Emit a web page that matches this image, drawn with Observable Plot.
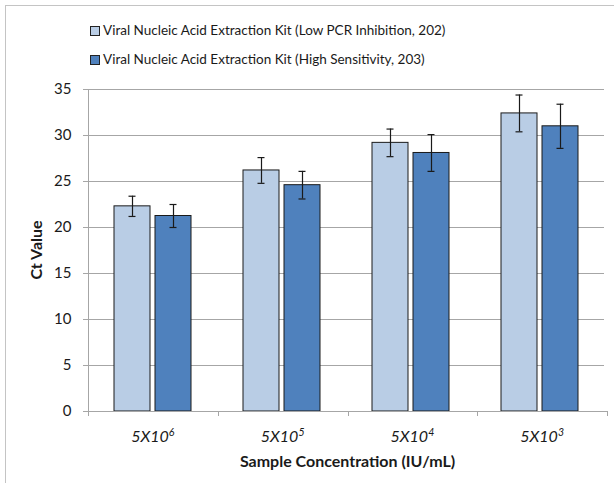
<!DOCTYPE html>
<html>
<head>
<meta charset="utf-8">
<script src="https://cdn.jsdelivr.net/npm/d3@7"></script>
<script src="https://cdn.jsdelivr.net/npm/@observablehq/plot@0.6"></script>
<style>
  html, body { margin: 0; padding: 0; background: #fff; }
  #wrap { position: relative; width: 614px; height: 483px; overflow: hidden; font-family: Lato, "Open Sans", sans-serif; color: #1a1a1a; }
  #frame { position: absolute; left: 5px; top: 5px; width: 640px; height: 520px; border: 1px solid #c4c4c4; box-sizing: border-box; }
  #legend { position: absolute; left: 90px; top: 16px; font-size: 13.5px; line-height: 29px; }
  #legend .row { display: flex; align-items: center; white-space: nowrap; }
  #legend .sw { width: 10px; height: 10px; border: 1px solid #222; margin-right: 3px; box-sizing: border-box; }
  #chart { position: absolute; left: 0; top: 0; }
</style>
</head>
<body>
<div id="wrap">
  <div id="frame"></div>
  <div id="chart"></div>
  <div id="legend"></div>
</div>
<script>
// ---- data ----
const categories = ["5X10⁶", "5X10⁵", "5X10⁴", "5X10³"];
const seriesNames = [
  "Viral Nucleic Acid Extraction Kit (Low PCR Inhibition, 202)",
  "Viral Nucleic Acid Extraction Kit (High Sensitivity, 203)"
];
const seriesColors = ["#b9cde5", "#4f81bd"];
const lowInhibitionMeans = [22.3, 26.2, 29.2, 32.4];
const lowInhibitionErrors = [1.1, 1.4, 1.5, 2.0];
const highSensitivityMeans = [21.25, 24.6, 28.1, 31.0];
const highSensitivityErrors = [1.25, 1.5, 2.0, 2.4];
const yTicks = [0, 5, 10, 15, 20, 25, 30, 35];
const xTitle = "Sample Concentration (IU/mL)";
const yTitle = "Ct Value";

// ---- layout ----
const W = 614, H = 483, ML = 86, MR = 9, MT = 89, MB = 72;

// ---- table ----
const rows = [];
categories.forEach((c, i) => {
  rows.push({cat: c, series: seriesNames[0], v: lowInhibitionMeans[i], e: lowInhibitionErrors[i]});
  rows.push({cat: c, series: seriesNames[1], v: highSensitivityMeans[i], e: highSensitivityErrors[i]});
});

// ---- legend ----
const legend = document.getElementById("legend");
seriesNames.forEach((s, i) => {
  const r = document.createElement("div");
  r.className = "row";
  const sw = document.createElement("span");
  sw.className = "sw";
  sw.style.background = seriesColors[i];
  const t = document.createElement("span");
  t.textContent = s;
  r.append(sw, t);
  legend.append(r);
});

const gray = "#a6a6a6";
const font = "Lato, 'Open Sans', sans-serif";
const supMap = {"⁰":"0","¹":"1","²":"2","³":"3","⁴":"4","⁵":"5","⁶":"6","⁷":"7","⁸":"8","⁹":"9"};

let decorationsDrawn = false;
function decorations(index, scales) {
  if (decorationsDrawn) return null; // draw once (leftmost facet, no offset)
  decorationsDrawn = true;
  const svgNS = "http://www.w3.org/2000/svg";
  const g = document.createElementNS(svgNS, "g");
  const left = ML, right = W - MR;
  const y0 = scales.y(0), yTop = scales.y(35);
  const n = categories.length;
  const step = (right - left) / n;
  const line = (x1, y1, x2, y2) => {
    const l = document.createElementNS(svgNS, "line");
    l.setAttribute("x1", x1); l.setAttribute("y1", y1);
    l.setAttribute("x2", x2); l.setAttribute("y2", y2);
    l.setAttribute("stroke", gray); l.setAttribute("stroke-width", 1);
    g.append(l);
  };
  const text = (str, attrs) => {
    const t = document.createElementNS(svgNS, "text");
    for (const k in attrs) t.setAttribute(k, attrs[k]);
    t.setAttribute("font-family", font);
    t.setAttribute("fill", "#1a1a1a");
    if (str != null) t.textContent = str;
    g.append(t);
    return t;
  };
  // y axis line and baseline
  line(left + 0.5, yTop, left + 0.5, y0);
  line(left - 5, y0 + 0.5, right, y0 + 0.5);
  // x ticks at band boundaries
  for (let i = 0; i <= n; i++) {
    const x = Math.round(left + i * step) + 0.5;
    line(x, y0, x, y0 + 5);
  }
  // x tick labels with superscript exponents
  categories.forEach((c, i) => {
    let base = "", exp = "";
    [...c].forEach(ch => { if (supMap[ch]) exp += supMap[ch]; else base += ch; });
    const t = text(null, {x: left + (i + 0.5) * step, y: y0 + 31, "text-anchor": "middle", "font-style": "italic", "font-size": 16});
    const b = document.createElementNS(svgNS, "tspan");
    b.textContent = base;
    const s = document.createElementNS(svgNS, "tspan");
    s.setAttribute("dy", -6);
    s.setAttribute("font-size", 10.5);
    s.textContent = exp;
    t.append(b, s);
  });
  // x title
  text(xTitle, {x: (left + right) / 2, y: y0 + 56, "text-anchor": "middle", "font-weight": "bold", "font-size": 16});
  // y title
  text(yTitle, {transform: `translate(${left - 46},${(y0 + yTop) / 2}) rotate(-90)`, "text-anchor": "middle", "font-weight": "bold", "font-size": 16});
  return g;
}

const chart = Plot.plot({
  width: W,
  height: H,
  marginTop: MT,
  marginBottom: MB,
  marginLeft: ML,
  marginRight: MR,
  style: {fontFamily: font, background: "transparent"},
  fx: {domain: categories, padding: 0, axis: null, label: null},
  x: {domain: seriesNames, paddingInner: 0.12, paddingOuter: 0.6, axis: null},
  y: {domain: [0, 35], axis: null},
  color: {domain: seriesNames, range: seriesColors},
  marks: [
    Plot.gridY(yTicks, {stroke: gray, strokeOpacity: 1, strokeWidth: 1}),
    Plot.axisY(yTicks, {tickSize: 5, tickPadding: 12, fontSize: 15, stroke: gray, fill: "#1a1a1a", label: null, tickFormat: d => d}),
    Plot.barY(rows, {fx: "cat", x: "series", y: "v", fill: "series", stroke: "#1a1a1a", strokeWidth: 1}),
    Plot.ruleX(rows, {fx: "cat", x: "series", y1: d => d.v - d.e, y2: d => d.v + d.e, stroke: "#1a1a1a", strokeWidth: 1.2}),
    Plot.tickY(rows, {fx: "cat", x: "series", y: d => d.v - d.e, stroke: "#1a1a1a", strokeWidth: 1.2, insetLeft: 14.5, insetRight: 14.5}),
    Plot.tickY(rows, {fx: "cat", x: "series", y: d => d.v + d.e, stroke: "#1a1a1a", strokeWidth: 1.2, insetLeft: 14.5, insetRight: 14.5}),
    decorations
  ]
});
document.getElementById("chart").append(chart);
</script>
</body>
</html>
